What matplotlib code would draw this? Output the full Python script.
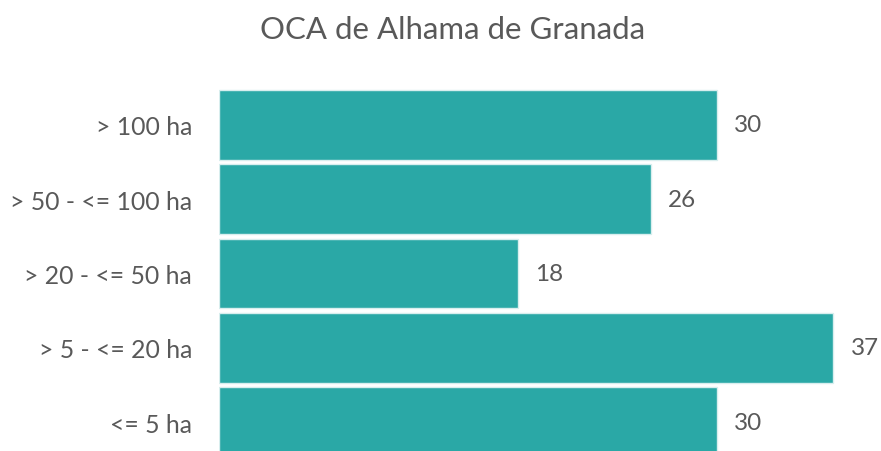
import matplotlib
matplotlib.use("Agg")
import matplotlib.pyplot as plt

# data, top to bottom as in the picture
categories = ["> 100 ha", "> 50 - <= 100 ha", "> 20 - <= 50 ha", "> 5 - <= 20 ha", "<= 5 ha"]
values = [30, 26, 18, 37, 30]

bar_color = "#2aa8a6"
text_color = "#595959"
plt.rcParams['font.family'] = ['Lato', 'DejaVu Sans']

fig = plt.figure(figsize=(8.81, 4.52), dpi=100)
# axes placed in pixels: left edge of bars at x=219, bottom clipped at image edge
ax = fig.add_axes([219 / 881, 0.0, 1 - 219 / 881, (452 - 85) / 452])

pos = list(range(len(categories)))[::-1]
ax.barh(pos, values, height=0.94, color=bar_color, edgecolor="#d8eeee", linewidth=1)

for p, v in zip(pos, values):
    ax.text(v + 1.05, p, str(v), va="center", ha="left", fontsize=17.5, color=text_color)

ax.set_yticks(pos)
ax.set_yticklabels(categories, fontsize=17.8, color=text_color)
ax.tick_params(axis="y", length=0, pad=19.5)
ax.set_xticks([])
ax.set_xlim(0, (881 - 219) / 16.6)
ax.set_ylim(-0.39, 4.55)
for s in ax.spines.values():
    s.set_visible(False)

fig.text(453 / 881, 1 - 30 / 452, "OCA de Alhama de Granada", ha="center", va="center",
         fontsize=22.4, color=text_color)

fig.savefig("out.png", dpi=100)
